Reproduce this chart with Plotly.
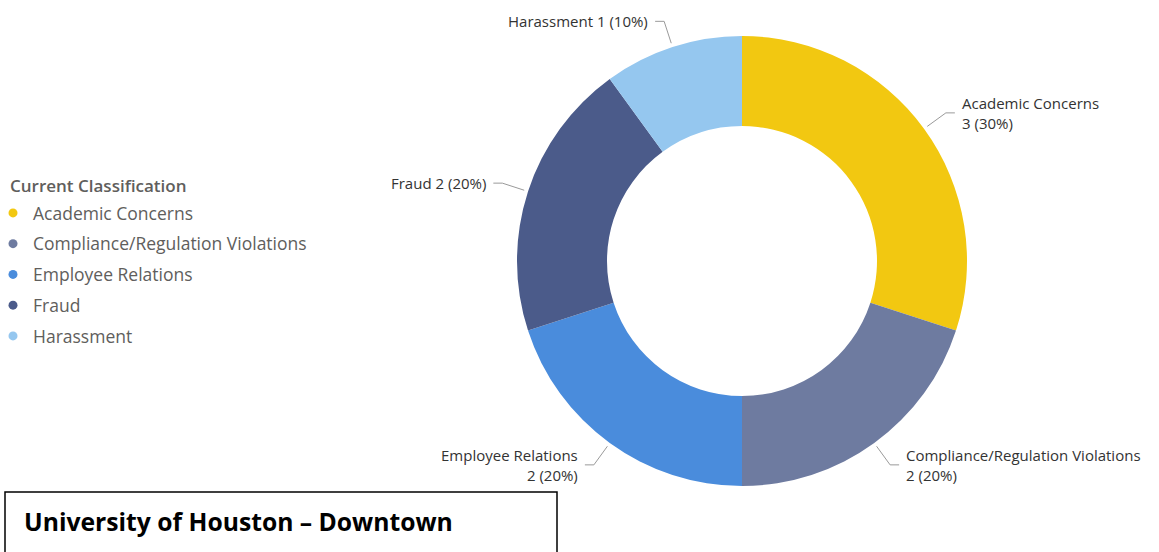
import math
import plotly.graph_objects as go

# ---- data ----
categories = ["Academic Concerns", "Compliance/Regulation Violations",
              "Employee Relations", "Fraud", "Harassment"]
counts = [3, 2, 2, 2, 1]
colors = ["#F2C811", "#6E7BA0", "#4A8CDC", "#4B5B8A", "#95C7EF"]
two_line_label = [True, True, True, False, False]
legend_title = "Current Classification"
box_title = "University of Houston \u2013 Downtown"

# ---- layout constants (pixels) ----
W, H = 1159, 552
cx, cy, R = 742, 261, 225
HOLE = 0.6


def px(x):
    return x / W


def py(y):
    return 1 - y / H


fig = go.Figure()
fig.add_trace(go.Pie(
    labels=categories, values=counts,
    marker=dict(colors=colors, line=dict(width=0)),
    hole=HOLE, sort=False, direction="clockwise", rotation=0,
    textinfo="none", hoverinfo="label+value+percent", showlegend=False,
    domain=dict(x=[px(cx - R), px(cx + R)], y=[py(cy + R), py(cy - R)]),
))

# legend entries (round markers like the original)
for cat, col in zip(categories, colors):
    fig.add_trace(go.Scatter(
        x=[None], y=[None], mode="markers", name=cat, legendgroup=cat,
        marker=dict(color=col, size=9, symbol="circle"), hoverinfo="skip",
    ))

# ---- data labels with leader lines ----
total = sum(counts)
shapes = []
annotations = []
cum = 0
label_font = dict(family="Open Sans", size=15, color="#333333")
for cat, v, two in zip(categories, counts, two_line_label):
    theta = (cum + v / 2) / total * 2 * math.pi
    cum += v
    s, c = math.sin(theta), math.cos(theta)
    x1, y1 = cx + 229 * s, cy - 229 * c
    x2, y2 = cx + 252 * s, cy - 252 * c
    d = 1 if s >= 0 else -1
    x3 = x2 + d * 9
    shapes.append(dict(
        type="path", xref="paper", yref="paper",
        path=f"M {px(x1)},{py(y1)} L {px(x2)},{py(y2)} L {px(x3)},{py(y2)}",
        line=dict(color="#9A9A9A", width=1),
    ))
    pct = round(100 * v / total)
    txt = f"{cat}<br>{v} ({pct}%)" if two else f"{cat} {v} ({pct}%)"
    annotations.append(dict(
        x=px(x3 + d * 5), y=py(y2), xref="paper", yref="paper",
        text=txt, showarrow=False, xanchor="left" if d > 0 else "right",
        yanchor="middle", align="left" if d > 0 else "right", font=label_font,
    ))

# ---- legend title ----
annotations.append(dict(
    x=px(8), y=py(186), xref="paper", yref="paper", text=legend_title,
    showarrow=False, xanchor="left", yanchor="middle",
    font=dict(family="Open Sans", size=17, color="#605E5C", weight=600),
))

# ---- bottom-left title box ----
shapes.append(dict(type="rect", xref="paper", yref="paper",
                   x0=px(5), x1=px(557), y0=py(575), y1=py(492),
                   line=dict(color="#000000", width=1.5), fillcolor="rgba(0,0,0,0)"))
annotations.append(dict(
    x=px(22), y=py(521), xref="paper", yref="paper", text=f"<b>{box_title}</b>",
    showarrow=False, xanchor="left", yanchor="middle",
    font=dict(family="Open Sans", size=24.7, color="#000000"),
))

fig.update_layout(
    width=W, height=H,
    margin=dict(l=0, r=0, t=0, b=0, autoexpand=False),
    paper_bgcolor="white", plot_bgcolor="white",
    xaxis=dict(visible=False), yaxis=dict(visible=False),
    showlegend=True,
    legend=dict(
        font=dict(family="Open Sans", size=17.5, color="#605E5C"),
        x=px(-7), xanchor="left", y=py(195), yanchor="top",
        bgcolor="rgba(0,0,0,0)", tracegroupgap=5, itemwidth=30,
    ),
    shapes=shapes, annotations=annotations,
)

fig.write_html("out.html", config={"displayModeBar": False},
               post_script="document.body.style.margin='0';")
